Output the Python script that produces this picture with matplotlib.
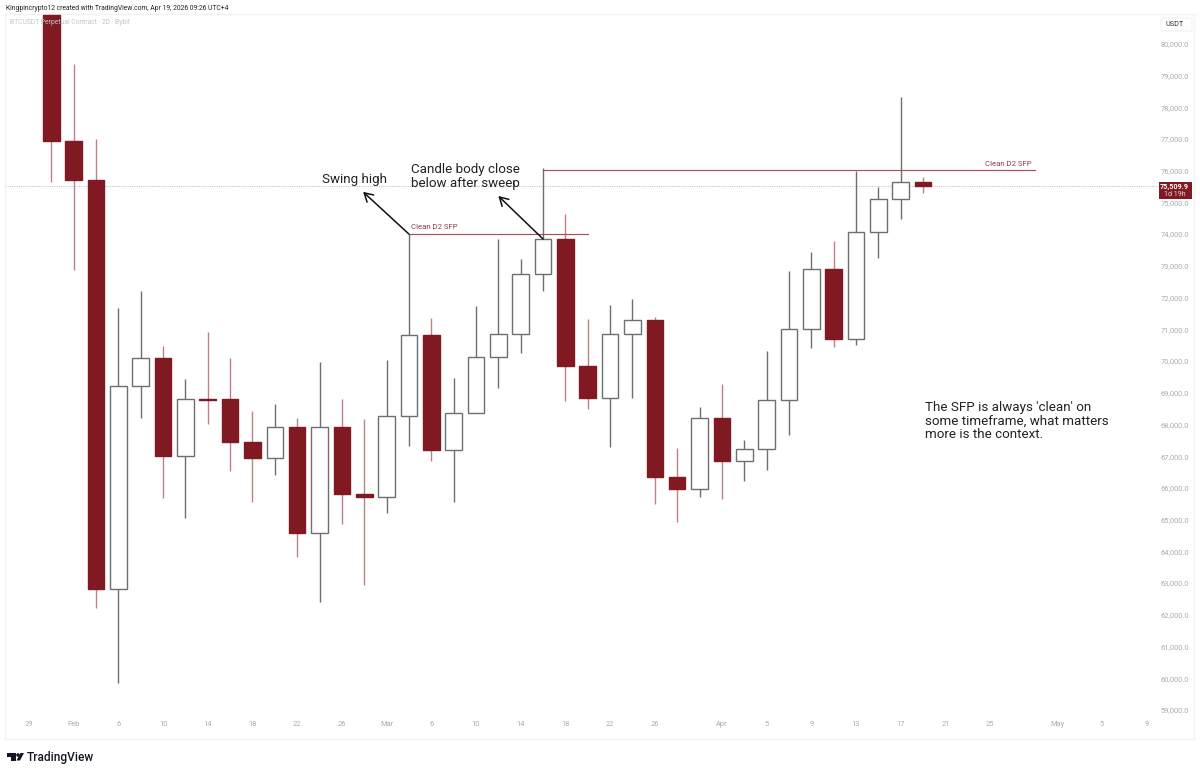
import matplotlib
matplotlib.use("Agg")
import matplotlib.pyplot as plt
from matplotlib.patches import Polygon, Rectangle, Circle, FancyBboxPatch

plt.rcParams['font.family'] = ['Roboto', 'DejaVu Sans']

# BTCUSDT 2D candles (first one starts Jan 31)
opens = [80905, 76934, 75704, 62815, 69212, 70094, 67006, 68803, 68803, 67447,
         66943, 67920, 64579, 67920, 65810, 65716, 68267, 70820, 67195, 68361,
         70126, 70851, 72742, 73845, 69842, 68834, 70851, 71290, 66344, 65966,
         68204, 66848, 67226, 68771, 71007, 72899, 70693, 74066, 75106, 75641]
closes = [76934, 75704, 62815, 69212, 70094, 67006, 68803, 68770, 67447, 66943,
          67920, 64579, 67920, 65810, 65716, 68267, 70820, 67195, 68361, 70126,
          70851, 72742, 73845, 69842, 68834, 70851, 71290, 66344, 65966, 68204,
          66848, 67226, 68771, 71007, 72899, 70693, 74066, 75106, 75641, 75510]
highs = [81800, 79360, 76997, 71670, 72206, 70473, 69433, 70913, 70094, 68424,
         68644, 68204, 69968, 68803, 68173, 70031, 74002, 71355, 69464, 71733,
         73845, 73215, 76083, 74633, 71324, 71765, 71954, 71387, 67258, 68550,
         69275, 67510, 70315, 72836, 73435, 73782, 75990, 75483, 78320, 75799]
lows = [75641, 72868, 62216, 59850, 68204, 65684, 65053, 68015, 66533, 65555,
        66407, 63823, 62406, 64864, 62942, 65212, 67321, 66848, 65555, 68361,
        69149, 70252, 72206, 68739, 68487, 67290, 68834, 65492, 64927, 65716,
        65653, 66218, 66565, 67668, 70410, 70441, 70504, 73246, 74475, 75295]

# x positions are candle numbers, one candle = 2 days
date_ticks = [-1, 1, 3, 5, 7, 9, 11, 13, 15, 17, 19, 21, 23, 25, 27, 30, 32, 34,
              36, 38, 40, 42, 45, 47, 49]
date_labels = ['29', 'Feb', '6', '10', '14', '18', '22', '26', 'Mar', '6', '10',
               '14', '18', '22', '26', 'Apr', '5', '9', '13', '17', '21', '25',
               'May', '5', '9']
price_ticks = list(range(59000, 81000, 1000))

last_price = 75509.9
sfp_low = [16, 24, 74000]
sfp_high = [22, 44, 76020]

RED = '#801922'
RED_WICK = '#bd8087'
GREY = '#6e6e6e'
AXIS_TXT = '#a9acb4'
W, H = 1200, 773

fig = plt.figure(figsize=(W / 100, H / 100), dpi=100, facecolor='white')
ax = fig.add_axes([5.3 / W, 1 - 739 / H, (1194 - 5.3) / W, (739 - 14) / H])
ax.set_xlim(-2.057, 51.12)
ax.set_ylim(58087, 80936)

# last price line goes under the candles
ax.plot([-2.057, 49.5], [last_price, last_price], color='#d9bfc2', lw=0.8,
        linestyle=(0, (1, 1)), zorder=1)

for i in range(len(opens)):
    up = closes[i] >= opens[i]
    ax.vlines(i, lows[i], highs[i], color=GREY if up else RED_WICK, lw=1.0, zorder=2)
    bottom = min(opens[i], closes[i])
    height = abs(closes[i] - opens[i])
    if up:
        ax.bar(i, height, bottom=bottom, width=0.74, facecolor='white',
               edgecolor=GREY, linewidth=1.0, zorder=3)
    else:
        ax.bar(i, height, bottom=bottom, width=0.74, facecolor=RED,
               edgecolor=RED, linewidth=1.0, zorder=3)

# the two SFP levels
for x0, x1, y in [sfp_low, sfp_high]:
    ax.plot([x0, x1], [y, y], color='#a8505a', lw=0.85, zorder=4)
ax.text(16.1, 74220, 'Clean D2 SFP', color='#8f3d47', fontsize=5.6, va='center', zorder=5)
ax.text(43.85, 76220, 'Clean D2 SFP', color='#8f3d47', fontsize=5.6, va='center', ha='right', zorder=5)

# arrows
ax.annotate('', xy=(13.95, 75330), xytext=(16, 74000), zorder=6,
            arrowprops=dict(arrowstyle='->,head_length=0.6,head_width=0.35', color='#111111',
                            lw=1.1, shrinkA=0, shrinkB=0))
ax.annotate('', xy=(20.0, 75200), xytext=(22, 73845), zorder=6,
            arrowprops=dict(arrowstyle='->,head_length=0.6,head_width=0.35', color='#111111',
                            lw=1.1, shrinkA=0, shrinkB=0))

ax.set_xticks(date_ticks)
ax.set_xticklabels(date_labels)
ax.yaxis.tick_right()
ax.set_yticks(price_ticks)
ax.set_yticklabels([f'{p:,.1f}' for p in price_ticks], ha='right')
ax.tick_params(axis='x', length=0, pad=-13, labelsize=5.4, labelcolor=AXIS_TXT)
ax.tick_params(axis='y', length=0, pad=-3.6, labelsize=5.4, labelcolor=AXIS_TXT)
for s in ax.spines.values():
    s.set_color('#f0f2f6')
    s.set_linewidth(1.0)

# overlay in pixels for the labels and TradingView bits
pix = fig.add_axes([0, 0, 1, 1], facecolor='none')
pix.set_xlim(0, W)
pix.set_ylim(H, 0)
pix.axis('off')

pix.text(6, 8, 'Kingpincrypto12 created with TradingView.com, Apr 19, 2026 09:26 UTC+4',
         fontsize=4.9, color='#222222', va='center')
pix.text(10, 23, 'BTCUSDT Perpetual Contract \u00b7 2D \u00b7 Bybit', fontsize=4.9,
         color='#c4c6cc', va='center')

pix.text(322, 180, 'Swing high', fontsize=9.6, color='#222222', va='center')
pix.text(411, 170, 'Candle body close', fontsize=9.6, color='#222222', va='center')
pix.text(411, 183, 'below after sweep', fontsize=9.6, color='#222222', va='center')
pix.text(925, 407, "The SFP is always 'clean' on", fontsize=9.6, color='#222222', va='center')
pix.text(925, 421, 'some timeframe, what matters', fontsize=9.6, color='#222222', va='center')
pix.text(925, 434, 'more is the context.', fontsize=9.6, color='#222222', va='center')

# USDT box
pix.add_patch(FancyBboxPatch((1161, 18), 31, 13, boxstyle='round,pad=0,rounding_size=2',
                             facecolor='white', edgecolor='#f0f2f6', lw=0.8))
pix.text(1165, 24.5, 'USDT', fontsize=5.2, color='#333333', va='center')

# last price tag
pix.add_patch(Rectangle((1159, 182), 33, 17, facecolor=RED, edgecolor='none', zorder=5))
pix.text(1189, 187, f'{last_price:,.1f}', fontsize=5.2, fontweight='bold', color='white',
         va='center', ha='right', zorder=6)
pix.text(1164, 194.5, '1d 19h', fontsize=5, color='#e8d3d5', va='center', zorder=6)

# TradingView logo
pix.add_patch(Polygon([(7, 753), (15.5, 753), (15.5, 760.5), (11, 760.5), (11, 756.8), (7, 756.8)],
                      facecolor='#131722', edgecolor='none'))
pix.add_patch(Circle((18, 755), 1.8, facecolor='#131722', edgecolor='none'))
pix.add_patch(Polygon([(20.5, 753), (24, 753), (20, 760.5), (16.5, 760.5)],
                      facecolor='#131722', edgecolor='none'))
pix.text(27, 757, 'TradingView', fontsize=8.6, fontweight='medium', color='#131722', va='center')

fig.savefig('out.png', dpi=100)
